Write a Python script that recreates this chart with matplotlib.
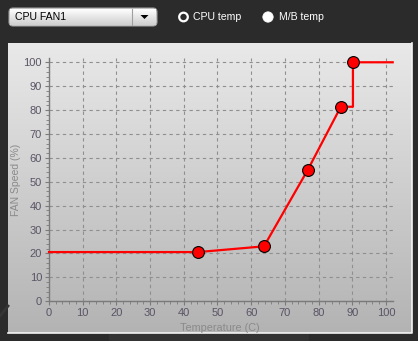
import numpy as np
import matplotlib.pyplot as plt
from matplotlib.patches import FancyBboxPatch, Rectangle, Circle, Polygon
from matplotlib.colors import LinearSegmentedColormap

# fan curve points
temps = [44.3, 63.8, 76.8, 86.6, 90.2]
speeds = [20.6, 23.0, 55.0, 81.4, 100.0]
start_speed = 20.6
x_end = 102

fan_name = "CPU FAN1"
radio_labels = ["CPU temp", "M/B temp"]
xticks = list(range(0, 101, 10))
yticks = list(range(0, 101, 10))

W, H = 418, 341
fig = plt.figure(figsize=(W / 100, H / 100), dpi=100)
fig.patch.set_facecolor('#2b2b2b')
plt.rcParams['font.family'] = ['Liberation Sans', 'DejaVu Sans']

# background axes in pixel units
bg = fig.add_axes([0, 0, 1, 1])
bg.set_xlim(0, W)
bg.set_ylim(H, 0)
bg.axis('off')

# faint streaks of the dark window background
bg.plot([0, 8], [316, 306], color='#353535', lw=2)
bg.add_patch(Rectangle((109, 334), 200, 8, color='#333333', lw=0))

# panel with gradient
grad = np.linspace(0, 1, 256).reshape(-1, 1)
bg.imshow(grad, extent=(8, 412, 333, 43),
          cmap=LinearSegmentedColormap.from_list('p', ['#e9e9e9', '#b3b3b3']),
          aspect='auto', zorder=1)
bg.plot([8, 412, 412], [333, 333, 43], color='#f4f4f4', lw=1.2, zorder=2)

# combobox
bg.add_patch(FancyBboxPatch((9, 8), 148, 18, boxstyle='round,pad=0,rounding_size=4',
                            fc='#ececec', ec='#9a9a9a', lw=0.8, zorder=3))
bg.imshow(np.linspace(0, 1, 64).reshape(-1, 1), extent=(10, 156, 25, 9),
          cmap=LinearSegmentedColormap.from_list('c', ['#ffffff', '#e6e6e6', '#cfcfcf']),
          aspect='auto', zorder=3.5)
bg.plot([132, 132], [9, 25], color='#a0a0a0', lw=0.8, zorder=4)
bg.add_patch(Polygon([[140.5, 15], [148.5, 15], [144.5, 19]], closed=True, fc='black', zorder=4))
bg.text(15, 16.5, fan_name, fontsize=7.6, color='black', va='center', ha='left', zorder=5)

# radio buttons
bg.add_patch(Circle((183.5, 17), 4.3, fc='none', ec='white', lw=1.6, zorder=4))
bg.text(193, 17, radio_labels[0], fontsize=7.6, color='white', va='center', ha='left')
bg.add_patch(Circle((268, 17), 5.2, fc='white', ec='white', lw=0.5, zorder=4))
bg.text(279, 17, radio_labels[1], fontsize=7.6, color='white', va='center', ha='left')

# chart axes
ax = fig.add_axes([49 / W, 39.7 / H, 343.7 / W, 243.8 / H])
ax.patch.set_alpha(0)
ax.set_xlim(0, x_end)
ax.set_ylim(0, 102)

line_x = [0] + temps[:4] + [temps[4], temps[4], x_end]
line_y = [start_speed] + speeds[:4] + [speeds[3], speeds[4], speeds[4]]
ax.plot(line_x, line_y, color='#ff0000', lw=1.6, zorder=3, clip_on=False)
ax.plot(temps, speeds, 'o', color='#ff0000', markeredgecolor='black', markeredgewidth=0.8,
        markersize=8.5, zorder=4, clip_on=False)

ax.set_xticks(xticks)
ax.set_yticks(yticks)
ax.set_xticks(np.arange(0, 101, 2), minor=True)
ax.set_yticks(np.arange(0, 101, 2), minor=True)
ax.grid(True, which='major', color='#8f8f8f', linestyle=(0, (3, 3)), lw=0.8)
for s in ['top', 'right']:
    ax.spines[s].set_visible(False)
for s in ['left', 'bottom']:
    ax.spines[s].set_color('#7a7a7a')
    ax.spines[s].set_linewidth(1.0)
ax.tick_params(which='major', length=3, color='#7a7a7a', labelsize=8, labelcolor='#5a5466', pad=2)
ax.tick_params(which='minor', length=2, color='#7a7a7a')
ax.set_xlabel('Temperature (C)', fontsize=7.8, color='#8a8a8a', va='center')
ax.set_ylabel('FAN Speed (%)', fontsize=7.5, color='#8a8a8a', va='center')
ax.xaxis.set_label_coords(0.4975, -0.108)
ax.yaxis.set_label_coords(-0.097, 0.5)

fig.savefig('out.png', dpi=100, facecolor=fig.get_facecolor())
